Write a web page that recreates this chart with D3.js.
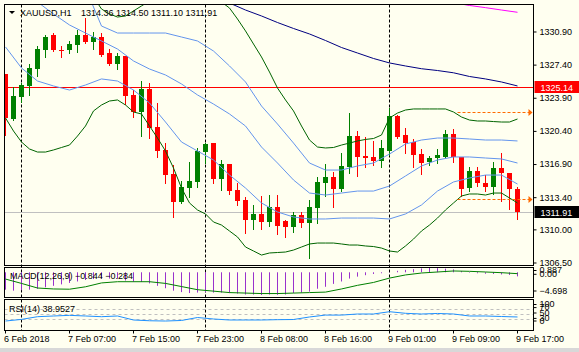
<!DOCTYPE html>
<html>
<head>
<meta charset="utf-8">
<script src="https://cdn.jsdelivr.net/npm/d3@7"></script>
<style>
body { margin: 0; background: #fffff0; }
svg { display: block; }
text { font-family: "Liberation Sans", Arial, sans-serif; font-size: 9px; }
</style>
</head>
<body>
<div id="chart"></div>
<script>
// XAUUSD H1 candles, one entry per bar (6 Feb 23:00 .. 9 Feb 17:00)
var opens = [1326.46,1321.71,1324.03,1325.20,1327.00,1329.00,1330.58,1329.05,1329.00,1329.53,1330.58,1329.84,1330.37,1328.68,1327.52,1328.37,1324.25,1322.45,1324.88,1320.87,1318.44,1315.90,1312.94,1314.42,1315.06,1318.22,1319.18,1315.37,1316.96,1314.21,1313.15,1311.04,1311.68,1310.83,1312.42,1310.94,1310.30,1311.57,1310.73,1312.31,1314.95,1315.58,1314.32,1316.64,1319.91,1317.80,1317.70,1317.27,1318.33,1322.03,1320.02,1319.28,1318.01,1317.17,1317.59,1317.70,1320.13,1317.70,1314.42,1316.22,1314.95,1314.53,1316.54,1316.01,1314.36];
var highs = [1326.46,1325.09,1325.51,1327.52,1329.42,1330.58,1330.80,1329.42,1329.95,1331.11,1332.38,1330.90,1330.80,1329.10,1328.68,1328.37,1324.77,1325.72,1325.51,1323.40,1319.20,1316.85,1315.16,1317.17,1318.65,1319.18,1319.18,1317.38,1316.96,1314.95,1313.47,1312.63,1313.58,1313.68,1313.68,1311.04,1311.89,1311.89,1313.15,1315.58,1316.96,1316.11,1318.12,1322.34,1320.44,1319.81,1319.39,1319.50,1322.87,1322.13,1320.76,1319.60,1318.54,1317.80,1318.54,1320.55,1320.65,1317.70,1316.64,1316.64,1315.80,1317.17,1318.12,1316.01,1314.50];
var lows = [1320.02,1321.60,1323.50,1324.25,1326.25,1328.26,1328.90,1328.26,1328.68,1328.79,1329.74,1329.10,1328.37,1327.41,1327.00,1323.30,1321.92,1319.91,1319.70,1317.70,1314.95,1311.36,1312.84,1313.47,1314.53,1317.06,1314.95,1314.21,1313.79,1312.63,1309.67,1310.09,1310.09,1310.41,1309.56,1309.25,1309.77,1310.30,1307.03,1310.73,1313.58,1312.42,1314.10,1316.01,1315.69,1316.64,1316.85,1316.64,1317.90,1319.70,1318.12,1316.64,1315.90,1316.85,1317.06,1317.59,1317.17,1313.58,1314.10,1314.63,1314.10,1313.79,1313.05,1312.20,1311.10];
var closes = [1321.82,1324.14,1325.30,1327.10,1329.10,1330.37,1329.00,1328.95,1329.63,1330.58,1329.84,1330.37,1328.47,1327.52,1328.37,1324.14,1322.45,1324.88,1320.76,1318.33,1315.80,1312.94,1314.53,1315.16,1318.33,1319.07,1315.37,1316.96,1314.10,1313.05,1311.04,1311.68,1310.83,1312.42,1310.41,1310.30,1311.57,1310.73,1312.42,1315.06,1315.58,1314.32,1316.75,1319.91,1317.70,1317.59,1317.27,1318.65,1322.03,1319.81,1319.18,1317.91,1317.06,1317.59,1317.91,1320.13,1317.70,1314.32,1316.22,1314.95,1314.53,1316.54,1316.01,1314.32,1311.91];

// outer (green) bands, one value per bar
var greenUpper = [1340.62,1340.09,1339.56,1339.03,1338.51,1337.98,1337.45,1336.92,1336.18,1335.34,1334.70,1334.60,1333.33,1332.80,1332.48,1332.59,1333.12,1333.65,1334.17,1334.91,1335.76,1336.39,1336.82,1336.82,1336.39,1335.76,1334.91,1334.07,1333.43,1332.27,1331.01,1329.63,1328.26,1326.67,1324.98,1323.72,1322.56,1320.97,1319.49,1318.75,1318.65,1318.70,1318.96,1319.17,1319.39,1319.55,1319.65,1320.02,1321.82,1322.34,1322.66,1322.77,1322.77,1322.77,1322.77,1322.77,1322.45,1321.92,1321.60,1321.50,1321.50,1321.44,1321.39,1321.39,1321.71];
var greenLower = [1321.82,1320.44,1319.28,1318.54,1318.22,1318.22,1318.44,1318.70,1318.96,1319.91,1320.97,1322.56,1323.19,1323.61,1323.72,1323.19,1322.45,1322.24,1320.97,1319.70,1318.33,1316.53,1314.42,1312.84,1312.10,1311.68,1310.83,1310.51,1309.88,1309.25,1308.19,1307.77,1307.34,1307.56,1307.61,1307.66,1307.87,1308.19,1308.51,1308.61,1308.61,1308.61,1308.51,1308.40,1308.40,1308.30,1308.24,1308.08,1307.77,1307.66,1308.30,1309.03,1309.88,1310.51,1311.25,1312.10,1312.84,1313.58,1313.79,1313.79,1313.68,1313.89,1313.89,1313.37,1312.84];

// inner (blue) bands, every second bar
var evenBars = [0,2,4,6,8,10,12,14,16,18,20,22,24,26,28,30,32,34,36,38,40,42,44,46,48,50,52,54,56,58,60,62,64];
var blueUpper = [1344.50,1343.00,1341.00,1339.00,1337.30,1335.55,1331.53,1330.79,1330.79,1330.79,1330.79,1330.37,1329.95,1328.89,1327.31,1325.62,1323.08,1321.18,1319.17,1317.06,1316.32,1316.32,1316.75,1317.06,1318.01,1319.07,1319.49,1319.70,1319.70,1319.60,1319.49,1319.49,1319.39];
var blueMiddle = [1336.92,1335.55,1334.07,1332.80,1331.64,1330.79,1329.95,1329.10,1327.84,1326.99,1326.36,1325.41,1324.25,1323.29,1322.24,1320.97,1318.75,1317.06,1315.27,1313.89,1313.68,1313.89,1314.10,1314.10,1314.63,1315.69,1316.75,1317.38,1317.70,1317.70,1317.59,1317.49,1317.06];
var blueLower = [1329.32,1327.10,1325.72,1325.20,1324.77,1325.30,1325.94,1325.72,1324.77,1323.40,1321.39,1319.28,1318.33,1317.38,1315.79,1314.42,1312.84,1311.89,1311.36,1311.15,1311.15,1311.25,1311.25,1311.25,1311.15,1311.68,1312.63,1314.10,1315.06,1315.48,1315.79,1315.79,1314.84];

// slow moving averages
var navyBars = [26,28,30,32,34,36,38,40,42,44,46,48,50,52,54,56,58,60,62,64];
var navyMA = [1334.65,1333.96,1333.22,1332.59,1331.90,1331.27,1330.69,1330.00,1329.26,1328.68,1328.10,1327.63,1327.31,1327.02,1326.83,1326.59,1326.20,1325.94,1325.62,1325.20];
var pinkBars = [56,58,60,62,64];
var pinkMA = [1334.00,1333.70,1333.47,1333.22,1332.98];

// levels
var bidPrice = 1311.91;
var alertPrice = 1325.14;
var arrowLevels = [1322.45, 1313.26];
var arrowStartBar = 56.5;
var priceTicks = [1330.90,1327.40,1323.90,1320.40,1316.90,1313.40,1310.00,1306.50];

// MACD(12,26,9)
var macdMain = [-3.6,-3.8,-3.7,-3.6,-3.4,-3.1,-2.8,-2.5,-2.2,-1.9,-1.6,-1.4,-1.3,-1.3,-1.3,-1.7,-2.0,-2.0,-2.3,-2.8,-3.3,-3.8,-4.1,-4.3,-4.2,-4.1,-4.2,-4.2,-4.3,-4.4,-4.6,-4.6,-4.698,-4.6,-4.65,-4.6,-4.3,-4.2,-4.0,-3.4,-3.0,-2.4,-1.9,-1.3,-0.9,-0.6,-0.35,-0.2,-0.05,0.3,0.5,0.65,0.8,0.887,0.85,0.75,0.6,0.25,-0.1,-0.2,-0.3,-0.35,-0.45,-0.55,-0.844];
var macdSignal = [-1.4,-2.3,-3.25,-3.45,-3.5,-3.0,-2.2,-1.95,-1.95,-1.95,-2.3,-2.95,-3.6,-3.9,-4.2,-4.3,-4.4,-4.4,-4.3,-4.2,-4.1,-3.45,-2.7,-2.1,-1.2,-0.55,-0.15,0.06,0.27,0.2,0.06,-0.08,-0.284];
var macdTicks = [0.887, 0.00, -4.698];

// RSI(14)
var rsiValues = [24,30,40,42.6,45,42.6,40,42.6,27.8,25,24,26,37,31.5,27.8,27.8,27.8,29,29.6,39,46,46,50,50,58.5,52.6,50,52,50,42.6,42.6,40.7,38.9527];
var rsiTicks = [100,70,50,30,0];
var rsiLevels = [70,50,30];

// time axis
var timeBars = [0,8,16,24,32,40,48,56,64];
var timeLabels = ["6 Feb 2018","7 Feb 07:00","7 Feb 15:00","7 Feb 23:00","8 Feb 08:00","8 Feb 16:00","9 Feb 01:00","9 Feb 09:00","9 Feb 17:00"];
var separatorBars = [2,25,48];

var W = 579, H = 352;
var left = 4.5, right = 533.5;
var mainTop = 4.5, mainBottom = 265.5;
var macdTop = 267.5, macdBottom = 297.5;
var rsiTop = 299.5, rsiBottom = 330.5;

var svg = d3.select("#chart").append("svg")
    .attr("width", W)
    .attr("height", H);

svg.append("rect").attr("width", W).attr("height", H).attr("fill", "#fffff0");
svg.append("rect").attr("y", 348).attr("width", W).attr("height", 4).attr("fill", "#d8d8d8");

var defs = svg.append("defs");
function clip(id, top, bottom) {
  defs.append("clipPath").attr("id", id)
    .append("rect").attr("x", left + 0.5).attr("y", top + 0.5)
    .attr("width", right - left - 1).attr("height", bottom - top - 1);
}
clip("clipMain", mainTop, mainBottom);
clip("clipMacd", macdTop, macdBottom);
clip("clipRsi", rsiTop, rsiBottom);

var x = d3.scaleLinear().domain([0, 64]).range([5.5, 517.5]);
var y = d3.scaleLinear().domain([1306.29, 1333.75]).range([265, 5]);
var yMacd = d3.scaleLinear().domain([-4.698, 0.887]).range([295, 268]);
var yRsi = d3.scaleLinear().domain([0, 100]).range([327.5, 300.5]);

// period separators
svg.append("g").selectAll("line").data(separatorBars).enter().append("line")
    .attr("x1", function(d){ return x(d); }).attr("x2", function(d){ return x(d); })
    .attr("y1", mainTop).attr("y2", rsiBottom)
    .attr("stroke", "#000").attr("stroke-dasharray", "3,2");

// ---- main panel
var gMain = svg.append("g").attr("clip-path", "url(#clipMain)");

gMain.append("line")
    .attr("x1", left).attr("x2", right)
    .attr("y1", Math.round(y(bidPrice)) + 0.5).attr("y2", Math.round(y(bidPrice)) + 0.5)
    .attr("stroke", "#c0c0c0");
gMain.append("line")
    .attr("x1", left).attr("x2", right)
    .attr("y1", Math.round(y(alertPrice)) + 0.5).attr("y2", Math.round(y(alertPrice)) + 0.5)
    .attr("stroke", "#ff0000");

var bars = d3.range(opens.length);
var candle = gMain.append("g").selectAll("g").data(bars).enter().append("g")
    .attr("fill", function(i){ return closes[i] >= opens[i] ? "#008000" : "#ff0000"; })
    .attr("stroke", function(i){ return closes[i] >= opens[i] ? "#008000" : "#ff0000"; });
candle.append("line")
    .attr("x1", function(i){ return x(i); }).attr("x2", function(i){ return x(i); })
    .attr("y1", function(i){ return Math.round(y(highs[i])); })
    .attr("y2", function(i){ return Math.round(y(lows[i])) + 1; });
candle.append("rect")
    .attr("stroke", "none")
    .attr("x", function(i){ return x(i) - 2.5; })
    .attr("width", 5)
    .attr("y", function(i){ return Math.round(y(Math.max(opens[i], closes[i]))); })
    .attr("height", function(i){
      return Math.max(1, Math.round(y(Math.min(opens[i], closes[i]))) - Math.round(y(Math.max(opens[i], closes[i]))));
    });

function drawLine(g, idx, vals, scale, color) {
  var line = d3.line()
      .x(function(d){ return x(d[0]); })
      .y(function(d){ return scale(d[1]); });
  g.append("path").datum(d3.zip(idx, vals))
      .attr("d", line).attr("fill", "none")
      .attr("stroke", color).attr("stroke-width", 1);
}
drawLine(gMain, bars, greenUpper, y, "#006400");
drawLine(gMain, bars, greenLower, y, "#006400");
drawLine(gMain, evenBars, blueUpper, y, "#6495ed");
drawLine(gMain, evenBars, blueMiddle, y, "#6495ed");
drawLine(gMain, evenBars, blueLower, y, "#6495ed");
drawLine(gMain, navyBars, navyMA, y, "#000080");
drawLine(gMain, pinkBars, pinkMA, y, "#ff00ff");

arrowLevels.forEach(function(p){
  var yy = Math.round(y(p)) + 0.5;
  gMain.append("line")
      .attr("x1", x(arrowStartBar)).attr("x2", right - 4)
      .attr("y1", yy).attr("y2", yy)
      .attr("stroke", "#ff6a00").attr("stroke-dasharray", "3,2");
  gMain.append("path")
      .attr("d", "M" + (right - 5) + "," + (yy - 3.5) + "L" + (right - 1) + "," + yy + "L" + (right - 5) + "," + (yy + 3.5) + "Z")
      .attr("fill", "#ff6a00");
});

// ---- MACD panel
var gMacd = svg.append("g").attr("clip-path", "url(#clipMacd)");
gMacd.append("g").selectAll("line").data(bars).enter().append("line")
    .attr("x1", function(i){ return x(i); }).attr("x2", function(i){ return x(i); })
    .attr("y1", yMacd(0)).attr("y2", function(i){ return yMacd(macdMain[i]); })
    .attr("stroke", "#9932cc");
drawLine(gMacd, evenBars, macdSignal, yMacd, "#008000");

// ---- RSI panel
var gRsi = svg.append("g").attr("clip-path", "url(#clipRsi)");
gRsi.append("g").selectAll("line").data(rsiLevels).enter().append("line")
    .attr("x1", left).attr("x2", right)
    .attr("y1", function(d){ return Math.round(yRsi(d)) + 0.5; })
    .attr("y2", function(d){ return Math.round(yRsi(d)) + 0.5; })
    .attr("stroke", "#c0c0c0").attr("stroke-dasharray", "3,3");
drawLine(gRsi, evenBars, rsiValues, yRsi, "#1e90ff");

// panel frames
[[mainTop, mainBottom], [macdTop, macdBottom], [rsiTop, rsiBottom]].forEach(function(p){
  svg.append("rect").attr("x", left).attr("y", p[0])
      .attr("width", right - left).attr("height", p[1] - p[0])
      .attr("fill", "none").attr("stroke", "#000");
});

// ---- axes
function styleAxis(g) {
  g.select(".domain").remove();
  g.attr("font-family", "Liberation Sans, Arial, sans-serif").attr("font-size", 9);
  g.selectAll("text").attr("fill", "#000");
}
var gy = svg.append("g").attr("transform", "translate(" + right + ",0)")
    .call(d3.axisRight(y).tickValues(priceTicks).tickSize(3).tickPadding(3).offset(0)
      .tickFormat(d3.format(".2f")));
styleAxis(gy);

var gm = svg.append("g").attr("transform", "translate(" + right + ",0)")
    .call(d3.axisRight(d3.scaleLinear().domain(yMacd.domain())
        .range([291, 270.5])).tickValues(macdTicks).tickSize(3).tickPadding(3).offset(0)
      .tickFormat(function(d){ return d === 0 ? "0.00" : d3.format(".3f")(d); }));
styleAxis(gm);
gm.selectAll(".tick").filter(function(d){ return d === 0; })
    .attr("transform", "translate(0," + (yMacd(0) + 2) + ")");

var gr = svg.append("g").attr("transform", "translate(" + right + ",0)")
    .call(d3.axisRight(d3.scaleLinear().domain([0, 100]).range([321, 304.5]))
      .tickValues(rsiTicks).tickSize(3).tickPadding(3).offset(0));
styleAxis(gr);
gr.selectAll(".tick").attr("transform", function(d){
  var yy = Math.min(321, Math.max(304.5, yRsi(d) - 1));
  return "translate(0," + yy + ")";
});

var gx = svg.append("g").attr("transform", "translate(0," + rsiBottom + ")")
    .call(d3.axisBottom(x).tickValues(timeBars).tickSize(3).tickPadding(2).offset(0)
      .tickFormat(function(d, k){ return timeLabels[k]; }));
styleAxis(gx);
gx.selectAll("text").attr("text-anchor", "start").attr("x", -1.5);

// current price boxes
function priceBox(p, color) {
  var yy = Math.round(y(p));
  svg.append("rect").attr("x", right + 1).attr("y", yy - 6)
      .attr("width", W - right - 1).attr("height", 12).attr("fill", color);
  svg.append("text").attr("x", right + 7).attr("y", yy + 3.5)
      .attr("fill", "#fff").text(d3.format(".2f")(p));
}
priceBox(alertPrice, "#ff0000");
priceBox(bidPrice, "#000000");

// labels
svg.append("path").attr("d", "M9,11L15,11L12,14Z").attr("fill", "#000");
svg.append("text").attr("x", 20).attr("y", 16).text("XAUUSD,H1");
svg.append("text").attr("x", 81).attr("y", 16)
    .text([opens[64], highs[64], lows[64], closes[64]].map(d3.format(".2f")).join(" "));
svg.append("text").attr("x", 10).attr("y", 279)
    .text("MACD(12,26,9) " + d3.format(".3f")(macdMain[64]) + " " + d3.format(".3f")(macdSignal[macdSignal.length - 1]));
svg.append("text").attr("x", 9).attr("y", 312)
    .text("RSI(14) " + d3.format(".4f")(rsiValues[rsiValues.length - 1]));
</script>
</body>
</html>
